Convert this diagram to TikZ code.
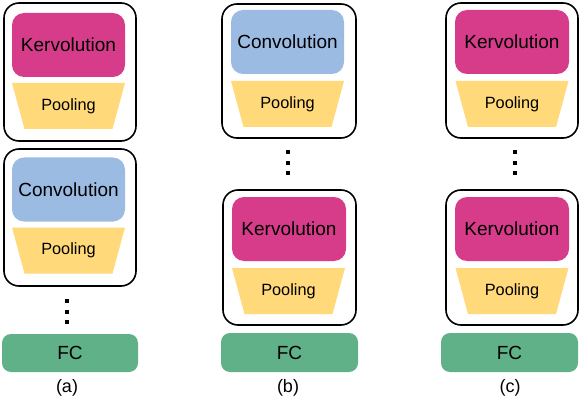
\documentclass[tikz,border=0pt]{standalone}
\usepackage{fontspec}
\setmainfont{Liberation Sans}
\definecolor{kerv}{RGB}{214,60,138}
\definecolor{conv}{RGB}{155,187,227}
\definecolor{pool}{RGB}{255,217,122}
\definecolor{fcg}{RGB}{96,176,136}
\tikzset{
  outerbox/.style={draw=black, line width=1.6pt, rounded corners=15pt, minimum width=#1, minimum height=135pt, inner sep=0pt},
  kervbox/.style={fill=kerv, rounded corners=12pt, minimum width=113pt, minimum height=64pt, inner sep=0pt, font=\fontsize{19}{22}\selectfont},
  convbox/.style={fill=conv, rounded corners=12pt, minimum width=113pt, minimum height=64pt, inner sep=0pt, font=\fontsize{19}{22}\selectfont},
  pooltext/.style={inner sep=0pt, font=\fontsize{16.3}{19}\selectfont},
  fcbox/.style={fill=fcg, rounded corners=9pt, minimum width=137pt, minimum height=38pt, inner sep=0pt, font=\fontsize{19}{22}\selectfont},
  caption/.style={inner sep=0pt, font=\fontsize{18}{21}\selectfont},
  dot/.style={fill=black, minimum size=4pt, inner sep=0pt},
}
% trapezoid: centre x, centre y, node name
\newcommand\poolshape[3]{%
  \fill[pool] (#1-56.5,#2-23) -- (#1+56.5,#2-23) -- (#1+44,#2+23) -- (#1-44,#2+23) -- cycle;
  \node[pooltext] (#3) at (#1,#2) {Pooling};}
\begin{document}
\begin{tikzpicture}[x=1pt,y=-1pt]
\useasboundingbox (0,0) rectangle (581,401);
% column (a)
\node[outerbox=132pt, minimum height=138pt] (ao1) at (70,72) {};
\node[kervbox] (ak1) at (68.5,45) {Kervolution};
\poolshape{68.5}{106}{ap1}
\node[outerbox=132pt, minimum height=137pt] (ao2) at (70,217.5) {};
\node[convbox] (ac2) at (68.5,189.5) {Convolution};
\poolshape{68.5}{250.5}{ap2}
\node[dot] (ad1) at (67,301) {};
\node[dot] (ad2) at (67,312) {};
\node[dot] (ad3) at (67,322) {};
\node[fcbox, minimum width=136pt] (afc) at (70,353) {FC};
\node[caption] (acap) at (67,388) {(a)};
% column (b)
\node[outerbox=134pt, minimum height=134pt] (bo1) at (289,71) {};
\node[convbox] (bc1) at (287.5,42) {Convolution};
\poolshape{287.5}{104}{bp1}
\node[dot] (bd1) at (288,152) {};
\node[dot] (bd2) at (288,163) {};
\node[dot] (bd3) at (288,173) {};
\node[outerbox=133pt] (bo2) at (289.5,257.5) {};
\node[kervbox, minimum width=114pt] (bk2) at (289,229) {Kervolution};
\poolshape{288.5}{291}{bp2}
\node[fcbox, minimum height=39pt] (bfc) at (289.5,352.5) {FC};
\node[caption] (bcap) at (288,388) {(b)};
% column (c)
\node[outerbox=132pt] (co1) at (512,70.5) {};
\node[kervbox, minimum width=114pt] (ck1) at (512,42) {Kervolution};
\poolshape{512}{104}{cp1}
\node[dot] (cd1) at (515,152) {};
\node[dot] (cd2) at (515,163) {};
\node[dot] (cd3) at (515,173) {};
\node[outerbox=132pt] (co2) at (512,257.5) {};
\node[kervbox, minimum width=114pt] (ck2) at (512,229) {Kervolution};
\poolshape{512}{291}{cp2}
\node[fcbox, minimum height=39pt] (cfc) at (509.5,352.5) {FC};
\node[caption] (ccap) at (510,388) {(c)};
\end{tikzpicture}
\end{document}
